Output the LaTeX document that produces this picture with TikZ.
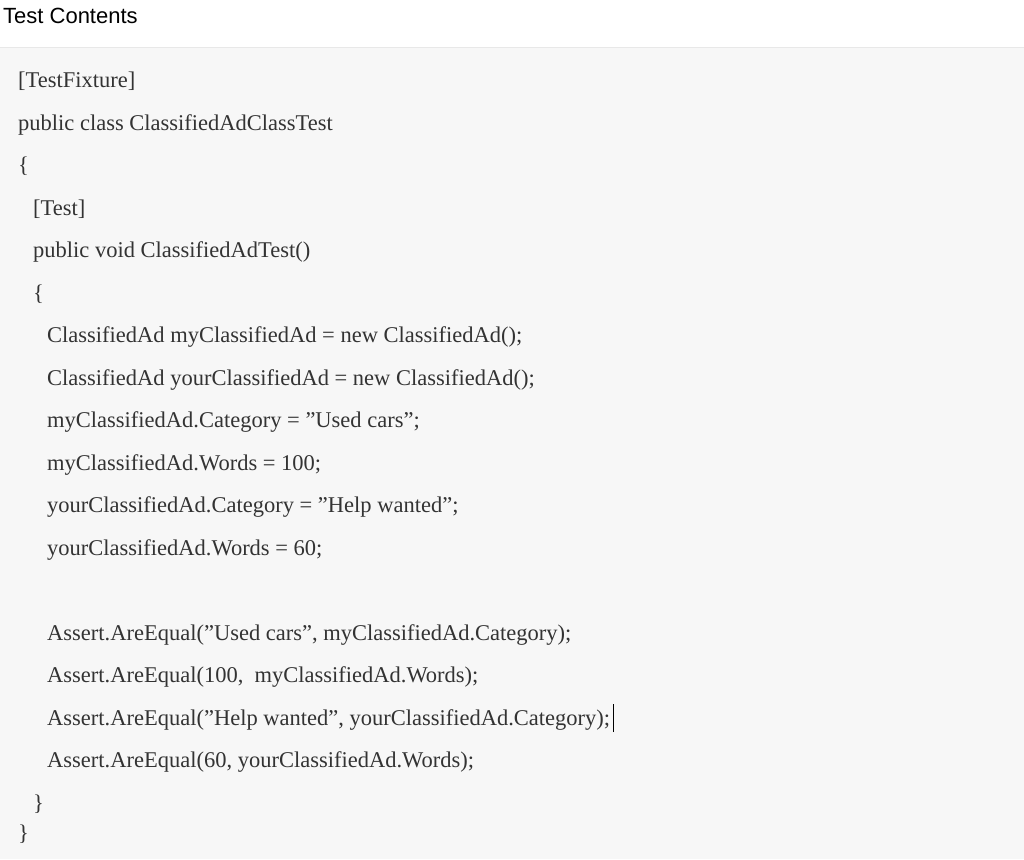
\documentclass[tikz,border=0pt]{standalone}
\usepackage{fontspec}
\setmainfont{Liberation Serif}
\newfontfamily\titlefont{Liberation Sans}
\definecolor{codebg}{HTML}{F7F7F7}
\definecolor{codeedge}{HTML}{E8E8E8}
\definecolor{codetext}{HTML}{333333}
\tikzset{
  codeline/.style={anchor=base west, inner sep=0pt, text=codetext, font=\fontsize{22.5}{27}\selectfont},
}
\begin{document}
\begin{tikzpicture}[x=1pt,y=-1pt]
\useasboundingbox (0,0) rectangle (1024,859);
% page and code panel
\fill[white] (0,0) rectangle (1024,859);
\fill[codebg] (0,47) rectangle (1024,859);
\draw[codeedge] (0,47) -- (1024,47);
\node[anchor=base west, inner sep=0pt, font=\titlefont\fontsize{22}{26}\selectfont] (title) at (3,24) {Test Contents};
% code lines
\node[codeline] (l1)  at (18,87)  {[TestFixture]};
\node[codeline] (l2)  at (18,130) {public class ClassifiedAdClassTest};
\node[codeline] (l3)  at (18,172) {\{};
\node[codeline] (l4)  at (33,215) {[Test]};
\node[codeline] (l5)  at (33,257) {public void ClassifiedAdTest()};
\node[codeline] (l6)  at (33,300) {\{};
\node[codeline] (l7)  at (47,342) {ClassifiedAd myClassifiedAd = new ClassifiedAd();};
\node[codeline] (l8)  at (47,385) {ClassifiedAd yourClassifiedAd = new ClassifiedAd();};
\node[codeline] (l9)  at (47,427) {myClassifiedAd.Category = "Used cars";};
\node[codeline] (l10) at (47,470) {myClassifiedAd.Words = 100;};
\node[codeline] (l11) at (47,512) {yourClassifiedAd.Category = "Help wanted";};
\node[codeline] (l12) at (47,555) {yourClassifiedAd.Words = 60;};
\node[codeline] (l13) at (47,640) {Assert.AreEqual("Used cars", myClassifiedAd.Category);};
\node[codeline] (l14) at (47,682) {Assert.AreEqual(100,\ \ myClassifiedAd.Words);};
\node[codeline] (l15) at (47,725) {Assert.AreEqual("Help wanted", yourClassifiedAd.Category);};
\node[codeline] (l16) at (47,767) {Assert.AreEqual(60, yourClassifiedAd.Words);};
\node[codeline] (l17) at (33,810) {\}};
\node[codeline] (l18) at (18,840) {\}};
% text cursor
\draw[black, line width=1.2] ([xshift=3pt]l15.base east) ++(0,7) -- ++(0,-28);
\end{tikzpicture}
\end{document}
